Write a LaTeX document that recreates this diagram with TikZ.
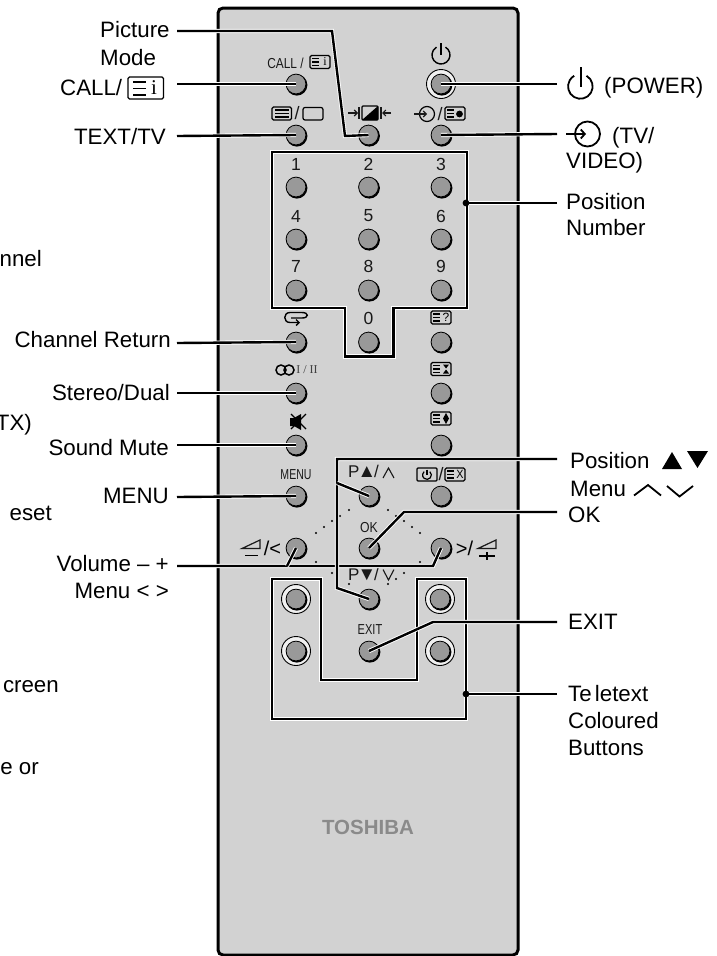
\documentclass[tikz,border=0pt]{standalone}
\usetikzlibrary{arrows.meta}
\usepackage{fontspec}
\usepackage{graphicx}
\setmainfont{Liberation Sans}
\newfontfamily\serifface{Liberation Serif}
\definecolor{bodygray}{HTML}{D2D2D2}
\definecolor{btngray}{HTML}{999999}
\definecolor{logogray}{HTML}{8A8A8A}
\tikzset{
  lbl/.style={inner sep=0pt,font=\fontsize{22.3}{24}\selectfont,text=black},
  lble/.style={lbl,anchor=base east},
  lblw/.style={lbl,anchor=base west},
  small/.style={inner sep=0pt,font=\fontsize{17.5}{18}\selectfont,text=black!90},
  slashmark/.style={inner sep=0pt,font=\fontsize{18}{18}\selectfont,text=black!90},
  narrow/.style={inner sep=0pt,font=\fontsize{17}{17}\selectfont,text=black!90},
  btn/.style={circle,draw=black,line width=0.8pt,fill=btngray,minimum size=19.8pt,inner sep=0pt},
  frameline/.style={line width=2.4pt,draw=black,preaction={draw=white,line width=4.2pt}},
  conn/.style={line width=2.4pt,draw=black,preaction={draw=white,line width=4.2pt}},
  sym/.style={line width=1.1pt,draw=black!90},
  bigsym/.style={line width=1.8pt,draw=black},
  pics/ticon/.style={code={
    \draw[line width=1.3pt,rounded corners=1.5pt] (-10,-6.5) rectangle (10,6.5);
    \draw[line width=1.2pt] (-8,-3.5) -- (-1,-3.5) (-8,0) -- (-1,0) (-8,3.5) -- (-1,3.5);
    \node[inner sep=0pt,font=\fontsize{12}{12}\selectfont] at (5,0) {#1};
  }}
}
\begin{document}
\begin{tikzpicture}[x=1pt,y=-1pt]
\useasboundingbox (0,0) rectangle (717,956);
% body
\draw[line width=3pt,fill=bodygray,rounded corners=5pt] (218,8) rectangle (518,955);
% panel frames
\draw[frameline] (272,152) -- (467,152) -- (467,308) -- (393.5,308) -- (393.5,356.5) -- (345,356.5) -- (345,308) -- (272,308) -- cycle;
\draw[frameline] (272,579) -- (321,579) -- (321,680) -- (417,680) -- (417,579) -- (466,579) -- (466,719) -- (272,719) -- cycle;
% dots
\foreach \x/\y in {316/533,324/527,332/521,340/516,349/510,388/510,396/516,404/521,412/527,420/533,316/562,420/562,332/573,349/584,388/584,396/579,404/573}
  \fill[black] (\x,\y) circle (1.1);
% ring buttons
\foreach \n/\x/\y in {ringA/296/599,ringB/296/651,ringC/440/599,ringD/440/651,ringP/441/84}
  \draw[line width=0.9pt,fill=black!6] (\x,\y) circle (14.5);
% buttons
\foreach \n/\x/\y in {bCall/296/84,bText/296/135,bMode/368.5/135,bInput/441/135,bOne/296/187,bTwo/368.5/187,bThree/441/187,bFour/296/239,bFive/368.5/239,bSix/441/239,bSeven/296/290,bEight/368.5/290,bNine/441/290,bZero/368.5/342,bRet/296/342,bQ/441/342,bStereo/296/393,bR/441/393,bMute/296/445,bS/441/445,bMenu/296/496,bUp/369/496,bTimer/441/496,bLeft/296/548,bOK/369/548,bRight/441/548,bDown/369/599,bExit/369/651,bRingA/296/599,bRingB/296/651,bRingC/440/599,bRingD/440/651,bPower/441/84}{
  \fill[black] (\x+0.8,\y+1) circle (10.6);
  \node[btn] (\n) at (\x,\y) {};
}
% digits
\foreach \t/\x/\y in {1/296/164.5,2/368.5/164.5,3/441/164.5,4/296/216,5/368.5/216,6/441/216,7/296/266,8/368.5/266,9/441/266,0/368.5/318}
  \node[small] (d\t) at (\x,\y) {\t};
% small button legends
\node[narrow,anchor=base] (tCall) at (285.5,68) {\scalebox{.7}[.85]{CALL /}};
\pic at (320,62) {ticon={\serifface i}};
\draw[line width=1.3pt,rounded corners=1.5pt] (272,107) rectangle (291.5,120);
\draw[line width=1.2pt] (275,110) -- (289,110) (275,113.5) -- (289,113.5) (275,117) -- (289,117);
\node[slashmark] (tSl) at (297,113.5) {/};
\draw[line width=1.2pt,rounded corners=2pt] (303,107.5) rectangle (323,120);
% picture mode symbol
\draw[sym,-{Straight Barb[length=3pt,width=6pt]}] (348,113) -- (358,113);
\draw[sym] (359,107) -- (359,119);
\draw[line width=1.2pt,rounded corners=1pt] (362,106) rectangle (378,120);
\fill[black] (378,106) -- (378,120) -- (362,120) -- cycle;
\draw[sym] (381,107) -- (381,119);
\draw[sym,-{Straight Barb[length=3pt,width=6pt]}] (391,113) -- (382,113);
% input symbol
\draw[line width=1.2pt] (427,114) circle (7.5);
\draw[sym,-{Straight Barb[length=3pt,width=6pt]}] (414,114) -- (427,114);
\node[slashmark] (tSl2) at (440,114) {/};
\pic at (455,113.5) {ticon={}};
\fill[black] (459.5,114) circle (3.4);
% power symbol small
\draw[line width=1.4pt] (441,43) -- (441,55);
\draw[line width=1.4pt] (445.5,47.2) arc (-60:240:9) ;
% channel return
\draw[line width=1.4pt,{Straight Barb[length=3pt,width=6pt]}-] (300,322.5) -- (290,322.5) .. controls (283,322.5) and (283,312.5) .. (290,312.5) -- (302,312.5) .. controls (309,312.5) and (309,318) .. (302,318) -- (291,318);
% stereo
\draw[line width=1.5pt] (281,370) circle (5) (289,370) circle (5);
\node[inner sep=0pt,font=\serifface\fontsize{12}{12}\selectfont,text=black!75] (tDual) at (307,370) {I / II};
% mute
\fill[black] (290,418) rectangle (294,426) (294,418) -- (301,414) -- (301,430) -- (294,426) -- cycle;
\draw[line width=1.3pt] (291,414) -- (306,429) (306,414) -- (291,429);
% teletext icons in right column
\pic at (441,317.5) {ticon={?}};
\pic at (441,369) {ticon={}};
\fill[black] (443,364.5) -- (449,364.5) -- (446,368.5) -- cycle (443,373.5) -- (449,373.5) -- (446,369.5) -- cycle;
\pic at (441,418.5) {ticon={}};
\fill[black] (446,413) -- (449,418.5) -- (446,424) -- (443,418.5) -- cycle;
% menu row
\node[narrow,anchor=base] (tMenu) at (296,479) {\scalebox{.62}[.85]{MENU}};
\node[narrow,anchor=base west] (tPup) at (348,477.5) {P\hspace{-2pt}\scalebox{1.1}{▲}\hspace{-2pt}/};
\draw[sym] (383,478) -- (388.5,468) -- (394,478);
\draw[line width=1.3pt,rounded corners=1pt] (417,468) rectangle (437,481);
\draw[line width=1.2pt] (429.8,471.6) arc (-50:230:4.4);
\draw[line width=1.2pt] (427,469.5) -- (427,475);
\node[slashmark] (tSl3) at (441,474.5) {/};
\pic at (455,474.5) {ticon={\scalebox{.9}[1]{X}}};
% ok row
\node[narrow,anchor=base] (tOK) at (369,532) {\scalebox{.72}[.85]{OK}};
\draw[sym,line width=1.2pt] (260,540) -- (260,548.5) -- (242,548.5) -- cycle;
\draw[line width=1.6pt] (245,555.5) -- (258,555.5);
\node[inner sep=0pt,font=\fontsize{20}{20}\selectfont] (tVolL) at (272.5,548.5) {/<};
\node[inner sep=0pt,font=\fontsize{20}{20}\selectfont] (tVolR) at (464.5,548.5) {>/};
\draw[sym,line width=1.2pt] (478,548.5) -- (496,540) -- (496,548.5) -- cycle;
\draw[line width=1.6pt] (479,556) -- (494.5,556) (487,552) -- (487,560);
\node[narrow,anchor=base west] (tPdn) at (348,580) {P\hspace{-2pt}\scalebox{1.1}{▼}\hspace{-2pt}/};
\draw[sym] (383,569.5) -- (388.5,580) -- (394,569.5);
\node[narrow,anchor=base] (tExit) at (370,634) {\scalebox{.65}[.85]{EXIT}};
\node[inner sep=0pt,font=\bfseries\fontsize{20.5}{21}\selectfont,text=logogray] (logo) at (368,827) {TOSHIBA};
% free ends of connectors
\foreach \n/\x/\y in {cPic/177/31,cCall/177/84,cText/177/136,cRet/177/343,cStereo/177/393,cMute/177/445,cMenu/177/497,cVol/177/566,cPower/557/84,cInput/557/134,cNum/557/203,cPos/557/459,cOK/557/512,cExit/557/622,cTele/557/694,jNum/466/203,jTele/466/694}
  \coordinate (\n) at (\x,\y);
% connectors
\draw[conn] (cPic) -- (332,31) -- (345,136) -- (bMode.center);
\draw[conn] (cCall) -- (bCall.center);
\draw[conn] (cText) -- (bText.center);
\draw[conn] (cRet) -- (bRet.center);
\draw[conn] (cStereo) -- (bStereo.center);
\draw[conn] (cMute) -- (bMute.center);
\draw[conn] (cMenu) -- (bMenu.center);
\draw[conn] (cPower) -- (bPower.center);
\draw[conn] (cInput) -- (bInput.center);
\draw[conn] (cVol) -- (433,566) -- (bRight.center);
\draw[conn] (287,566) -- (bLeft.center);
\draw[conn] (cPos) -- (337,459) -- (337,588) -- (bDown.center);
\draw[conn] (337,483) -- (bUp.center);
\draw[conn] (cOK) -- (404,512) -- (bOK.center);
\draw[conn] (cExit) -- (433,622) -- (bExit.center);
\draw[conn] (cNum) -- (jNum);
\draw[conn] (cTele) -- (jTele);
\fill[black] (jNum) circle (3.4);
\fill[black] (jTele) circle (3.4);
% left labels
\node[lblw] (lPic) at (100,37) {Picture};
\node[lblw] (lMode) at (100,65) {Mode};
\node[lblw] (lCall) at (60,95) {CALL/};
\draw[line width=1.3pt,rounded corners=1.5pt] (128,77) rectangle (163.5,99);
\draw[line width=1.4pt] (133,82) -- (146,82) (133,88.5) -- (146,88.5) (133,95) -- (146,95);
\node[inner sep=0pt,font=\serifface\fontsize{21}{21}\selectfont] (tI) at (154,88) {i};
\node[lble] (lText) at (166,144) {TEXT/TV};
\node[lble] (lRet) at (171,347) {Channel Return};
\node[lble] (lStereo) at (170,400) {Stereo/Dual};
\node[lble] (lMute) at (169,455) {Sound Mute};
\node[lble] (lMenu) at (169,503) {MENU};
\node[lble] (lVol) at (169,571) {Volume – +};
\node[lble] (lMenuB) at (169,598) {Menu < >};
% labels cut by the left edge of the picture
\node[lble] (cutA) at (42,266) {nnel};
\node[lble] (cutB) at (32,430) {TX)};
\node[lble] (cutC) at (52,520) {eset};
\node[lble] (cutD) at (59,692) {creen};
\node[lble] (cutE) at (39,774) {e or};
% right labels
\draw[bigsym] (581,67) -- (581,87);
\draw[bigsym] (586.5,75.8) arc (-60:240:12.3);
\node[lblw] (lPower) at (604,93) {(POWER)};
\draw[bigsym] (587.5,134) circle (12.5);
\draw[bigsym,-{Straight Barb[length=4pt,width=9pt]}] (566,134) -- (586,134);
\node[lblw] (lTV) at (612,143) {(TV/};
\node[lblw] (lVideo) at (566,168) {VIDEO)};
\node[lblw] (lNumA) at (566,209) {Position};
\node[lblw] (lNumB) at (566,235) {Number};
\node[lblw] (lPosA) at (570,468) {Position};
\fill[black] (662,469) -- (672,452) -- (682,469) -- cycle;
\fill[black] (687,451) -- (708,451) -- (697.5,468) -- cycle;
\node[lblw] (lPosB) at (570,496) {Menu};
\draw[bigsym] (634,495.5) -- (648,485) -- (661,495.5);
\draw[bigsym] (667,486) -- (679.5,496.5) -- (693,486);
\node[lblw] (lOK) at (568,522) {OK};
\node[lblw] (lExit) at (568,629) {EXIT};
\node[lblw] (lTeleA) at (568,701) {Te\hspace{-3pt} letext};
\node[lblw] (lTeleB) at (568,728) {Coloured};
\node[lblw] (lTeleC) at (568,755) {Buttons};
\end{tikzpicture}
\end{document}
